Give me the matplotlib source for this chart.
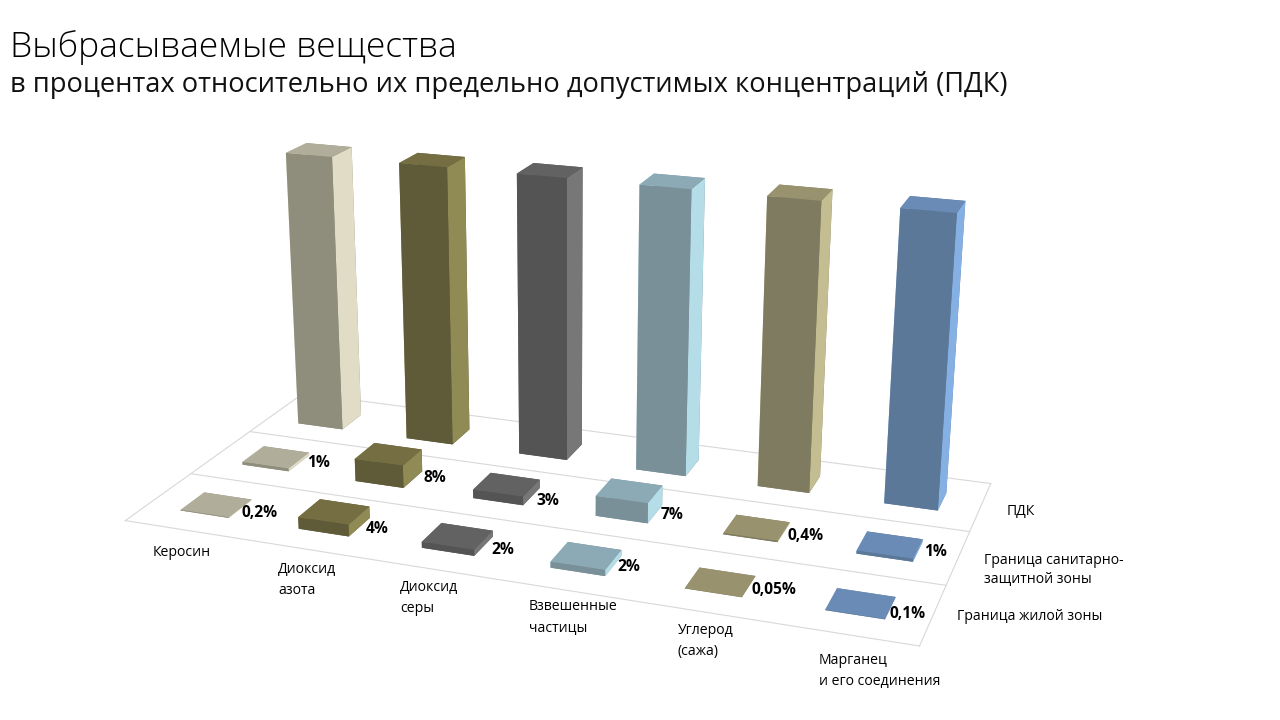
import numpy as np
import matplotlib
matplotlib.use('Agg')
import matplotlib.pyplot as plt
from mpl_toolkits.mplot3d import Axes3D

FONT = ['Open Sans', 'Noto Sans', 'DejaVu Sans']
plt.rcParams['font.family'] = FONT

TITLE = 'Выбрасываемые вещества'
SUBTITLE = 'в процентах относительно их предельно допустимых концентраций (ПДК)'
categories = ['Керосин', 'Диоксид\nазота', 'Диоксид\nсеры', 'Взвешенные\nчастицы', 'Углерод\n(сажа)', 'Марганец\nи его соединения']
zones = ['Граница жилой зоны', 'Граница санитарно-\nзащитной зоны', 'ПДК']
residential = [0.2, 4, 2, 2, 0.05, 0.1]
sanitary = [1, 8, 3, 7, 0.4, 1]
pdk = [100, 100, 100, 100, 100, 100]
res_labels = ['0,2%', '4%', '2%', '2%', '0,05%', '0,1%']
san_labels = ['1%', '8%', '3%', '7%', '0,4%', '1%']

front_colors = ['#8f8e7c', '#5f5a38', '#545454', '#7a9099', '#7f7b60', '#5c7899']
top_colors = ['#b0ae9a', '#746e42', '#626262', '#8caab5', '#98926f', '#6a8bb6']
side_colors = ['#e0dcc6', '#908a55', '#777777', '#b4dde8', '#c4bd92', '#85b0e4']

# pixel anchors (left, centre y from the top) of the labels
san_pos = [(307, 463), (424, 478), (536, 501), (661, 515), (788, 536), (924, 552)]
res_pos = [(242, 513), (366, 529), (491, 550), (617, 567), (752, 590), (890, 614)]
cat_pos = [(153, 552), (278, 570), (400, 587), (529, 607), (678, 630), (819, 660)]
zone_pos = [(957, 617), (984, 560), (1007, 512)]

W, H = 1280, 720
fig = plt.figure(figsize=(W / 100, H / 100), dpi=100, facecolor='white')
S, L, B = 917.19, 96.28, -108.91
ax = fig.add_axes([L / W, B / H, S / W, S / H], projection='3d', computed_zorder=False)
ax.set_proj_type('persp', focal_length=0.4176)
ax.view_init(elev=19.227, azim=-70.062)
ax.set_axis_off()
ax.patch.set_alpha(0)
nx, ny = len(categories), len(zones)
ax.set_xlim(0, nx); ax.set_ylim(0, ny); ax.set_zlim(0, 100)
ax.set_box_aspect((1, 0.4904, 0.3897), zoom=1)

grid = dict(color='#d8d8d8', lw=0.8, zorder=1)
for j in range(ny + 1):
    ax.plot([0, nx], [j, j], [0, 0], **grid)
ax.plot([nx, nx], [0, ny], [0, 0], **grid)
ax.plot([0, 0], [0, ny], [0, 0], **grid)

w, d = 0.4124, 0.3694
series = [residential, sanitary, pdk]
zo = 2
for j in [2, 1, 0]:
    for i in range(nx):
        x = i + (1 - w) / 2; y = j + (1 - d) / 2
        # faces: bottom, top, front, back, left, right
        faces = [front_colors[i], top_colors[i], front_colors[i], front_colors[i], side_colors[i], side_colors[i]]
        c = ax.bar3d(x, y, 0, w, d, series[j][i], color=faces, shade=False, zorder=zo)
        c.set_edgecolor('none')
        zo += 1

def put(px, py, s, **kw):
    fig.text(px / W, 1 - py / H, s, va='center', ha='left', **kw)

put(10, 48, TITLE, fontsize=25.5, fontweight='light', color='black')
put(10, 85, SUBTITLE, fontsize=19.6, color='#111111')
for (px, py), s in zip(san_pos, san_labels):
    put(px, py, s, fontsize=11.2, fontweight='bold', color='black')
for (px, py), s in zip(res_pos, res_labels):
    put(px, py, s, fontsize=11.2, fontweight='bold', color='black')
for (px, py), s in zip(cat_pos, categories):
    for k, line in enumerate(s.split('\n')):
        put(px, py + 21 * k, line, fontsize=10.1, color='black')
for (px, py), s in zip(zone_pos, zones):
    for k, line in enumerate(s.split('\n')):
        put(px, py + 20 * k, line, fontsize=10.1, color='black')

fig.savefig('out.png', dpi=100)
